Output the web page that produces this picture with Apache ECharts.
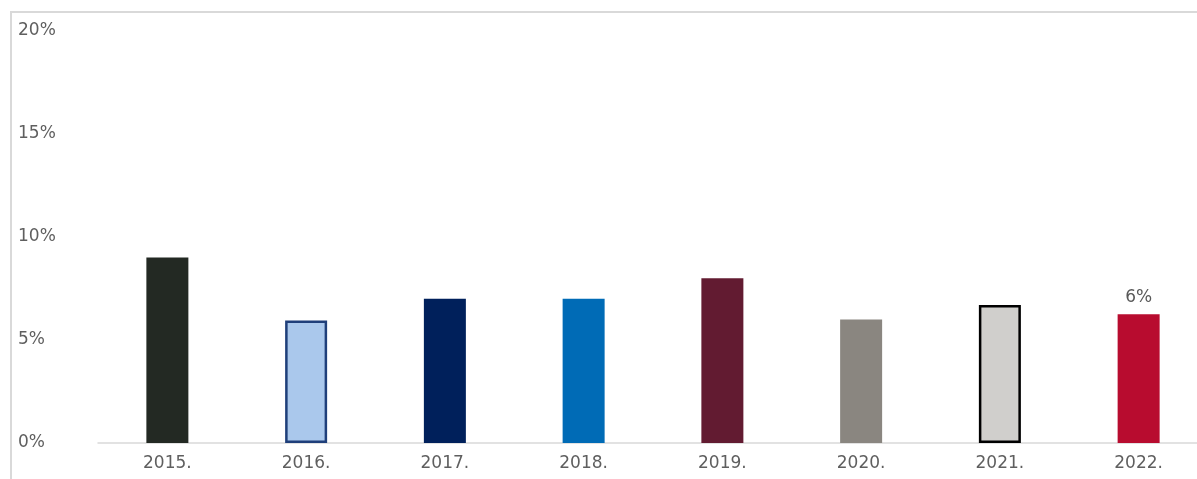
<!DOCTYPE html>
<html>
<head>
<meta charset="utf-8">
<script src="https://cdn.jsdelivr.net/npm/echarts@6/dist/echarts.min.js"></script>
<style>
html,body{margin:0;padding:0;background:#fff;overflow:hidden;width:1197px;height:479px;}
#chart{width:1212px;height:479px;}
</style>
</head>
<body>
<div id="chart"></div>
<script>
var categories = ['2015.', '2016.', '2017.', '2018.', '2019.', '2020.', '2021.', '2022.'];
var values = [9, 5.95, 7, 7, 8, 6, 6.7, 6.25];
var fillColors = ['#232923', '#aac8ec', '#00205b', '#006bb6', '#621b31', '#8a8680', '#d0cfcc', '#b80c2f'];
var borderColors = ['#232923', '#1f3f7a', '#00205b', '#006bb6', '#621b31', '#8a8680', '#000000', '#b80c2f'];
var borderWidths = [0, 2.5, 0, 0, 0, 0, 2.5, 0];
var labelIndex = 7;
var labelText = '6%';

var chart = echarts.init(document.getElementById('chart'));
var data = values.map(function (v, i) {
  var d = {
    value: v,
    itemStyle: { color: fillColors[i], borderColor: borderColors[i], borderWidth: borderWidths[i] }
  };
  if (i === labelIndex) {
    d.label = { show: true, position: 'top', formatter: labelText, color: '#595959', fontSize: 17, distance: 8, fontFamily: 'DejaVu Sans' };
  }
  return d;
});

chart.setOption({
  animation: false,
  backgroundColor: '#fff',
  graphic: [{
    type: 'polyline',
    shape: { points: [[11, 479], [11, 12], [1212, 12]] },
    style: { stroke: '#d9d9d9', lineWidth: 2, fill: null }
  }],
  grid: { left: 98, top: 31, width: 1110, height: 412, containLabel: false },
  xAxis: {
    type: 'category',
    data: categories,
    axisLine: { show: true, lineStyle: { color: '#d9d9d9', width: 1.5 } },
    axisTick: { show: false },
    axisLabel: { color: '#5f5f5f', fontSize: 17, margin: 12, fontFamily: 'DejaVu Sans' }
  },
  yAxis: {
    type: 'value',
    min: 0, max: 20, interval: 5,
    axisLine: { show: false },
    axisTick: { show: false },
    splitLine: { show: false },
    axisLabel: {
      color: '#5f5f5f', fontSize: 17, fontFamily: 'DejaVu Sans',
      align: 'left', margin: 80,
      formatter: function (v) { return v + '%'; }
    }
  },
  series: [{
    type: 'bar',
    data: data,
    barWidth: 42
  }]
});
</script>
</body>
</html>
